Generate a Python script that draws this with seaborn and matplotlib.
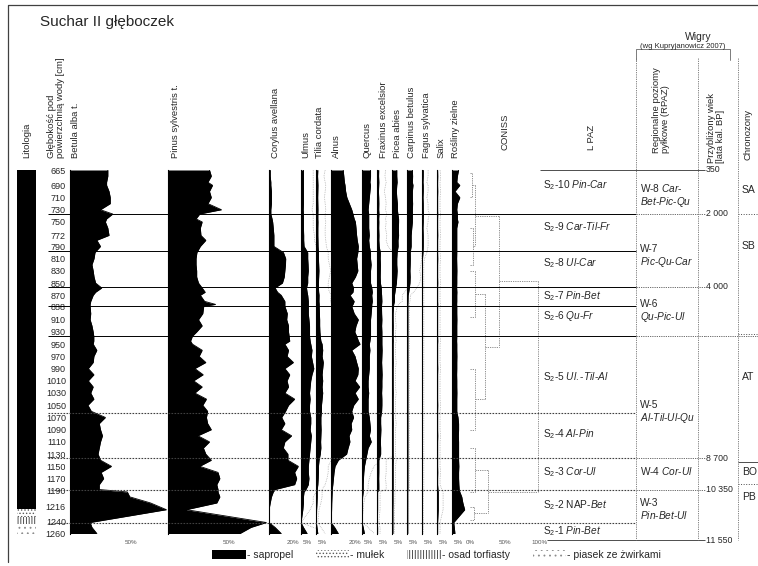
import matplotlib
matplotlib.use('Agg')
import matplotlib.pyplot as plt
from matplotlib.patches import Patch
import pandas as pd
import seaborn as sns

sns.set_style('white')
plt.rcParams['font.family'] = ['Liberation Sans', 'DejaVu Sans']
plt.rcParams['mathtext.fontset'] = 'custom'
plt.rcParams['mathtext.rm'] = 'Liberation Sans'
plt.rcParams['mathtext.it'] = 'Liberation Sans:italic'
plt.rcParams['hatch.linewidth'] = 0.6

# --- sample depths [cm] and pollen percentages ---
depth = [665, 675, 685, 690, 700, 710, 720, 730, 737, 745,
         750, 760, 772, 780, 790, 800, 810, 820, 830, 840,
         850, 858, 865, 870, 880, 885, 888, 900, 910, 920,
         930, 937, 945, 950, 960, 970, 980, 990, 1000, 1010,
         1020, 1030, 1040, 1050, 1060, 1070, 1080, 1090, 1100, 1110,
         1120, 1130, 1140, 1150, 1160, 1170, 1180, 1188, 1192, 1200,
         1210, 1221, 1242, 1250, 1260]

betula = [31, 31, 30, 30, 32, 33, 33, 25, 35, 30,
          29, 31, 32, 22, 25, 20.5, 19.7, 18, 19, 19.7,
          21, 26, 21, 19, 17, 16.5, 16.5, 17, 16.5, 18,
          19, 19.5, 19.5, 19, 22, 19.6, 19, 15, 19.6, 15,
          19, 17, 19.6, 14.7, 17.5, 29, 24, 25, 26.6, 25,
          24, 23, 25, 34, 25.5, 27.6, 24, 24, 47, 49,
          66, 79, 16.5, 18, 22]
pinus = [34, 35.5, 32.7, 36.5, 34, 35.5, 32.7, 43.8, 26, 23,
         28, 26.5, 27, 31, 26.5, 23.7, 23, 23, 23.5, 23.5,
         25, 28, 30.5, 26.5, 30, 39, 29.3, 28.5, 25, 28,
         23.5, 20, 18.5, 20, 28, 25.5, 31, 22, 28.8, 21,
         28, 22, 31.5, 28.5, 32.5, 31.5, 32.5, 35.5, 24.5, 34,
         29, 31, 35.5, 26, 41, 42.5, 40, 41, 41, 42.5,
         40, 15, 80.6, 68, 59]
corylus = [1, 1, 1.5, 1.5, 2, 2, 2, 1.5, 1.5, 2.5,
           3, 3.5, 4, 4, 4, 11.8, 13.7, 13.5, 13, 12.5,
           11, 5, 7, 10, 13, 13, 13, 15, 14.5, 16,
           16, 16.5, 17, 13, 16, 14.8, 20, 13, 17, 14.8,
           16, 13, 21, 16, 13.5, 10.4, 13, 10, 18.5, 13,
           11.7, 15.5, 15.5, 24, 21, 22.7, 21, 5, 3.5, 2,
           1, 0, 0, 5, 10]
ulmus = [2, 2, 2, 2, 2, 2, 2, 1.8, 2, 2,
         2, 2, 2.2, 2.2, 2.5, 5.5, 5.5, 5.8, 6, 5.5,
         5.5, 4.5, 5, 5.5, 6, 6, 6, 6, 6.5, 7,
         7, 7, 7.5, 8, 9, 8.5, 9.5, 10.5, 9, 8,
         7.5, 7, 7.5, 7, 7, 8, 8, 7.5, 8.5, 8,
         7.5, 7, 6.5, 6, 6, 6.5, 6, 4, 2.5, 2,
         2, 1.5, 0, 2, 5]
tilia = [1.5, 1.3, 1.5, 1.6, 1.5, 1.4, 1.5, 1.6, 1.5, 1.5,
         1.6, 1.5, 1.5, 1.6, 1.7, 2, 2, 2.2, 2.4, 2.2,
         2, 2, 2.2, 2.5, 2.4, 2.6, 2.6, 2.8, 3, 3,
         3.2, 3.5, 4, 5, 5.5, 5, 6, 5.5, 5, 5.5,
         5, 5.5, 5, 4.5, 4.5, 4, 4, 4.2, 4, 3.8,
         4, 3.5, 2.5, 2, 2, 1.8, 1.5, 1, 1, 1,
         0.8, 0.5, 0.3, 0.8, 1.5]
alnus = [10, 10.5, 11, 11.5, 12, 13, 15, 17, 18, 19,
         20, 20.5, 21, 21.5, 22.4, 22, 21, 21.5, 22, 20,
         17, 18.5, 18, 15.6, 19, 18, 17, 19, 22.4, 20.5,
         19.5, 21, 22.5, 23.8, 17, 19.7, 21, 22.4, 22, 19.7,
         23.5, 19.7, 22.4, 18.6, 17, 18.5, 16.5, 17, 14.8, 15.5,
         14, 12.8, 6, 3.3, 2.5, 2, 1.5, 1, 1, 0.8,
         0.6, 0.5, 0, 3, 6]
quercus = [7, 7, 6.5, 7, 6.5, 6, 5.5, 5, 5.5, 5.5,
           5.5, 5.5, 6, 5.5, 6, 7, 7, 7.5, 7, 7,
           7, 8, 8.5, 8, 8.5, 8, 8, 7.5, 7, 7,
           7, 7, 6.5, 6, 6.5, 6, 6, 6, 5.5, 5,
           5, 5.5, 5, 5, 5, 6, 6.5, 7, 6, 7.6,
           5, 4, 3, 2, 1.5, 1.2, 1, 1, 1, 0.5,
           0.3, 0.2, 0, 1, 2]
fraxinus = [1.4, 1.3, 1.5, 1.4, 1.2, 1.4, 1.5, 1.4, 1.6, 1.4,
            1.5, 1.4, 1.6, 1.5, 1.8, 2.7, 2.6, 2.8, 2.7, 2.6,
            2.8, 3.5, 3.6, 3.8, 4, 3.8, 3.7, 3.8, 4, 3.8,
            4, 4, 4, 4, 4.2, 4, 3.8, 4, 4.2, 4,
            4, 3.8, 4, 4, 3.8, 3, 3, 3.2, 3, 2.8,
            3, 3, 1.5, 1.5, 1.5, 1.4, 1.5, 1.5, 0.5, 0.5,
            0.5, 0.5, 0.3, 0.5, 0.5]
picea = [3.5, 3.5, 3.8, 3.5, 3.2, 3.5, 4, 4, 4.4, 5,
         5, 4.8, 5, 4.5, 4.6, 3.8, 3.5, 3.5, 3.8, 3.5,
         3.2, 2.5, 2, 1.6, 1.6, 1, 0.8, 0.5, 0.5, 0.6,
         0.5, 0.5, 0.6, 0.5, 0.5, 0.5, 0.6, 0.5, 0.5, 0.5,
         0.5, 0.6, 0.5, 0.5, 0.5, 0.5, 0.6, 0.5, 0.5, 0.5,
         0.5, 0.5, 0.6, 0.5, 0.5, 0.5, 0.5, 0.5, 0.4, 0.4,
         0.4, 0.3, 0.3, 0.3, 0.3]
carpinus = [4, 4.2, 4, 4.5, 4, 4, 4.2, 4, 4, 4,
            4, 3.5, 3, 3, 3, 2.2, 2.3, 2.2, 2, 2.2,
            2, 1.5, 1, 0.5, 0.4, 0.3, 0.3, 0.3, 0.3, 0.3,
            0.3, 0.3, 0.3, 0.3, 0.3, 0.3, 0.3, 0.3, 0.3, 0.3,
            0.3, 0.3, 0.3, 0.3, 0.3, 0.3, 0.3, 0.3, 0.3, 0.3,
            0.3, 0.3, 0.3, 0.3, 0.3, 0.3, 0.3, 0.3, 0.2, 0.2,
            0.2, 0.2, 0.2, 0.2, 0.2]
fagus = [1, 1, 0.8, 1, 1, 0.8, 1, 1, 1.2, 1,
         1, 0.8, 1, 1, 1, 0.8, 0.4, 0.3, 0.3, 0.3,
         0.3, 0.3, 0.3, 0.3, 0.3, 0.3, 0.3, 0.3, 0.3, 0.3,
         0.3, 0.3, 0.3, 0.3, 0.3, 0.3, 0.3, 0.3, 0.3, 0.3,
         0.3, 0.3, 0.3, 0.3, 0.3, 0.3, 0.3, 0.3, 0.3, 0.3,
         0.3, 0.3, 0.3, 0.3, 0.3, 0.3, 0.3, 0.3, 0.2, 0.2,
         0.2, 0.2, 0.2, 0.2, 0.2]
salix = [0.5, 0.6, 0.5, 0.5, 0.6, 0.5, 0.5, 0.5, 0.6, 0.5,
         0.5, 0.5, 0.6, 0.5, 0.5, 0.5, 0.6, 0.5, 0.5, 0.5,
         0.6, 0.5, 0.5, 0.5, 0.5, 0.6, 0.5, 0.5, 0.5, 0.5,
         0.5, 0.5, 0.6, 0.5, 0.5, 0.5, 0.5, 0.6, 0.5, 0.5,
         0.5, 0.5, 0.5, 0.6, 0.5, 0.5, 0.5, 0.5, 0.6, 0.5,
         0.5, 0.5, 0.5, 0.5, 0.6, 0.5, 0.5, 0.8, 1, 1,
         1, 1, 0.5, 0.5, 0.5]
rosliny = [5, 4, 3.5, 6, 2, 6, 4, 3.5, 4, 4,
           4.5, 3.5, 3.5, 3.5, 3.5, 3.5, 3.4, 3.5, 3.6, 3.5,
           3.5, 3.4, 3.6, 3.5, 3.5, 3.4, 3.5, 3.5, 3.6, 3.5,
           3.5, 3.5, 3.4, 3.5, 3.5, 3.6, 3.5, 3.5, 3.4, 3.5,
           3.5, 3.6, 3.5, 3.5, 3.5, 4.5, 5, 5, 4.8, 5,
           5, 5, 5, 5.2, 5, 5, 5.2, 5.5, 6, 7.6,
           8.5, 10, 1, 1.5, 2]

taxa = ['Betula alba t.', 'Pinus sylvestris t.', 'Corylus avellana', 'Ulmus',
        'Tilia cordata', 'Alnus', 'Quercus', 'Fraxinus excelsior', 'Picea abies',
        'Carpinus betulus', 'Fagus sylvatica', 'Salix', 'Rośliny zielne']
values = [betula, pinus, corylus, ulmus, tilia, alnus, quercus, fraxinus,
          picea, carpinus, fagus, salix, rosliny]
scale_tick = [50, 50, 20, 5, 5, 20, 5, 5, 5, 5, 5, 5, 5]
minor = ['Ulmus', 'Tilia cordata', 'Quercus', 'Fraxinus excelsior', 'Picea abies',
         'Carpinus betulus', 'Fagus sylvatica', 'Salix']

depth_ticks = [665, 690, 710, 730, 750, 772, 790, 810, 830, 850, 870, 888, 910, 930,
               950, 970, 990, 1010, 1030, 1050, 1070, 1090, 1110, 1130, 1150, 1170,
               1190, 1216, 1240, 1260]

# lithology
lith_top = [665, 1220, 1233, 1244]
lith_bot = [1220, 1233, 1244, 1260]
lith_name = ['sapropel', 'mułek', 'osad torfiasty', 'piasek ze żwirkami']

# zones
lpaz_bounds = [737, 797, 856, 888, 937, 1062, 1137, 1188, 1242]
lpaz_solid = [True, True, True, True, True, False, False, False, False]
lpaz_label_depth = [690, 758, 817, 871, 904, 1004, 1098, 1160, 1213, 1256]
lpaz_num = ['10', '9', '8', '7', '6', '5', '4', '3', '2', '1']
lpaz_name = [['Pin', 'Car'], ['Car', 'Til', 'Fr'], ['Ul', 'Car'], ['Pin', 'Bet'], ['Qu', 'Fr'],
             ['Ul.', 'Til', 'Al'], ['Al', 'Pin'], ['Cor', 'Ul'], ['NAP', 'Bet'], ['Pin', 'Bet']]

rpaz_label_depth = [706, 806, 896, 1062, 1157, 1221]
rpaz_code = ['W-8', 'W-7', 'W-6', 'W-5', 'W-4', 'W-3']
rpaz_name = [['Car', 'Bet', 'Pic', 'Qu'], ['Pic', 'Qu', 'Car'], ['Qu', 'Pic', 'Ul'],
             ['Al', 'Til', 'Ul', 'Qu'], ['Cor', 'Ul'], ['Pin', 'Bet', 'Ul']]

age_depth = [665, 737, 856, 1137, 1188, 1271]
age_label = ['350', '2 000', '4 000', '8 700', '10 350', '11 550']

chrono_label = ['SA', 'SB', 'AT', 'BO', 'PB']
chrono_label_depth = [698, 790, 1004, 1159, 1200]
chrono_bounds = [737, 934, 1143, 1179]

# CONISS links: (upper child depth, its height, lower child depth, its height, link height)
coniss_d1 = [670, 760, 690, 830, 990, 868, 740, 1120, 1216, 1156, 847]
coniss_h1 = [0, 0, 3, 0, 0, 7, 7, 0, 0, 7, 42]
coniss_d2 = [710, 820, 790, 906, 1090, 1040, 954, 1192, 1238, 1227, 1191.5]
coniss_h2 = [0, 0, 4, 0, 0, 7, 21, 0, 0, 5, 26]
coniss_h = [3, 4, 7, 7, 7, 21, 42, 7, 5, 26, 97]

# --- layout (pixels) ---
W, H = 758, 566
Y_TOP, Y_BOT = 170, 533.5          # rows of 665 cm and 1260 cm
PX_PER_PCT = 1.22
panel_left = [70, 168, 269, 301, 316, 331, 362, 377, 392.5, 407.5, 422, 437, 452.5, 470]
header_x = [75, 176, 275, 306, 320, 336, 367, 383, 398, 412, 426, 441, 455]

df = pd.DataFrame({'depth': depth, **dict(zip(taxa, values))})

fig = plt.figure(figsize=(W / 100, H / 100), dpi=100)


def add_panel(x0, width):
    return fig.add_axes([x0 / W, 1 - Y_BOT / H, width / W, (Y_BOT - Y_TOP) / H])


def clean(ax):
    for s in ['top', 'right', 'bottom']:
        ax.spines[s].set_visible(False)
    ax.set(xlabel='', ylabel='')
    ax.set_ylim(1260, 665)


# lithology column
ax_l = add_panel(17, 19)
lith_style = {'sapropel': dict(facecolor='black', hatch=None, edgecolor='black'),
              'mułek': dict(facecolor='white', hatch='.....', edgecolor='0.35'),
              'osad torfiasty': dict(facecolor='white', hatch='||||||', edgecolor='0.2'),
              'piasek ze żwirkami': dict(facecolor='white', hatch='...', edgecolor='0.55')}
for t, b, n in zip(lith_top, lith_bot, lith_name):
    ax_l.fill_betweenx([t, b], 0, 1, lw=0, **lith_style[n])
ax_l.set_xlim(0, 1)
ax_l.set_ylim(1260, 665)
ax_l.axis('off')

# pollen curves
for i, name in enumerate(taxa):
    x0, x1 = panel_left[i], panel_left[i + 1]
    ax = add_panel(x0, x1 - x0)
    ax.fill_betweenx(df['depth'], 0, df[name], color='black', lw=0)
    sns.lineplot(data=df, x=name, y='depth', orient='y', sort=False, estimator=None,
                 color='black', lw=0.6, ax=ax)
    if name in minor:
        ax.plot(df[name] * 5, df['depth'], color='0.6', lw=0.5, ls=(0, (1, 1.5)))
    ax.set_xlim(0, (x1 - x0) / PX_PER_PCT)
    clean(ax)
    ax.spines['left'].set_linewidth(0.8)
    ax.spines['left'].set_color('black')
    ax.set_xticks([scale_tick[i]])
    ax.set_xticklabels([f'{scale_tick[i]}%'])
    ax.tick_params(axis='x', length=0, pad=5, labelsize=4.5, labelcolor='0.35')
    if i == 0:
        ax.set_yticks(depth_ticks)
        ax.set_yticklabels([str(d) for d in depth_ticks])
        ax.tick_params(axis='y', length=0, pad=3, labelsize=6.5)
    else:
        ax.set_yticks([])
    fig.text(header_x[i] / W, 1 - 158 / H, name, rotation=90, ha='center', va='bottom',
             fontsize=6.8)

# CONISS dendrogram
ax_c = add_panel(470, 72)
for d1, h1, d2, h2, h in zip(coniss_d1, coniss_h1, coniss_d2, coniss_h2, coniss_h):
    kw = dict(colors='0.5', lw=0.6, linestyles=(0, (1.5, 1.2)))
    ax_c.vlines(h, d1, d2, **kw)
    ax_c.hlines([d1, d2], [h1, h2], h, **kw)
ax_c.set_xlim(0, 72 / 0.7)
clean(ax_c)
ax_c.spines['left'].set_visible(False)
ax_c.set_yticks([])
ax_c.set_xticks([0, 50, 100])
ax_c.set_xticklabels(['0%', '50%', '100%'])
ax_c.tick_params(axis='x', length=0, pad=5, labelsize=4.5, labelcolor='0.35')

# overlay: x in pixels, y in depth
S = (Y_BOT - Y_TOP) / 595
ov = fig.add_axes([0, 0, 1, 1], facecolor='none')
ov.set_xlim(0, W)
ov.set_ylim(665 + (H - Y_TOP) / S, 665 - Y_TOP / S)
ov.axis('off')

for d, solid in zip(lpaz_bounds, lpaz_solid):
    ov.hlines(d, 48, 636, colors='black' if solid else '0.25', lw=0.7 if solid else 0.8,
              linestyles='-' if solid else (0, (1.5, 1.2)))
for d in [737, 856, 937, 1137, 1188]:
    ov.hlines(d, 636, 705, colors='0.35', lw=0.6, linestyles=(0, (1.5, 1.2)))
ov.hlines(937, 705, 758, colors='0.35', lw=0.6, linestyles=(0, (1.5, 1.2)))
ov.hlines([665, 1271], [540, 547], 705, colors='0.3', lw=0.7)
for d, st in zip(chrono_bounds, [':', ':', '-', ':']):
    ov.hlines(d, 738, 758, colors='0.3', lw=0.7, linestyles=st)

for d, n, parts in zip(lpaz_label_depth, lpaz_num, lpaz_name):
    it = '-'.join(f'$\\mathit{{{p}}}$' if p != 'NAP' else p for p in parts)
    ov.text(543, d, f'S$_2$-{n} ' + it, fontsize=7.3, va='center', ha='left')

for d, code, parts in zip(rpaz_label_depth, rpaz_code, rpaz_name):
    it = '-'.join(f'$\\mathit{{{p}}}$' for p in parts)
    if code == 'W-8':
        txt = code + ' $\\mathit{Car}$-\n' + '-'.join(f'$\\mathit{{{p}}}$' for p in parts[1:])
    elif code == 'W-4':
        txt = code + ' ' + it
    else:
        txt = code + '\n' + it
    ov.text(640, d, txt, fontsize=7.3, va='center', ha='left', linespacing=1.1)

for d, a in zip(age_depth, age_label):
    ov.text(706, d, a, fontsize=6.3, va='center', ha='left')

for d, c in zip(chrono_label_depth, chrono_label):
    ov.text(742, d, c, fontsize=7.5, va='center', ha='left')

# frame, header boxes and texts (pixel coords)
fr = fig.add_axes([0, 0, 1, 1], facecolor='none')
fr.set_xlim(0, W)
fr.set_ylim(H, 0)
fr.axis('off')
fr.plot([8, 8, 758], [562, 5, 5], color='0.25', lw=0.9)
fr.plot([636, 636, 730, 730], [60, 49, 49, 60], color='0.4', lw=0.6)
for x in [636, 698, 738]:
    fr.vlines(x, 58, 540, colors='0.45', lw=0.6, linestyles=(0, (1.5, 1.2)))

fig.text(40 / W, 1 - 22 / H, 'Suchar II głęboczek', fontsize=11, va='center')
fig.text(698 / W, 1 - 37 / H, 'Wigry', fontsize=7.5, ha='center', va='center')
fig.text(683 / W, 1 - 46 / H, '(wg Kupryjanowicz 2007)', fontsize=5.5, ha='center',
         va='center')

rot = dict(rotation=90, ha='center', va='bottom', multialignment='left')
fig.text(27 / W, 1 - 158 / H, 'Litologia', fontsize=6.8, **rot)
fig.text(56 / W, 1 - 158 / H, 'Głębokość pod\npowierzchnią wody [cm]', fontsize=6.8,
         linespacing=1.0, **rot)
fig.text(505 / W, 1 - 150 / H, 'CONISS', fontsize=6.8, **rot)
fig.text(591 / W, 1 - 150 / H, 'L PAZ', fontsize=6.8, **rot)
fig.text(661 / W, 1 - 153 / H, 'Regionalne poziomy\npyłkowe (RPAZ)', fontsize=6.8,
         linespacing=1.0, **rot)
fig.text(716 / W, 1 - 163 / H, 'Przybliżony wiek\n[lata kal. BP]', fontsize=6.8,
         linespacing=1.0, **rot)
fig.text(748 / W, 1 - 160 / H, 'Chronozony', fontsize=6.8, **rot)

# legend
handles = [Patch(lw=0, **lith_style[n]) for n in lith_name]
fig.legend(handles, ['- ' + n for n in lith_name], ncol=4, loc='center left',
           bbox_to_anchor=(203 / W, 1 - 555 / H), frameon=False, fontsize=7.5,
           handlelength=3.2, handleheight=0.9, handletextpad=0.1, columnspacing=2.2)

fig.savefig('out.png', dpi=100)
